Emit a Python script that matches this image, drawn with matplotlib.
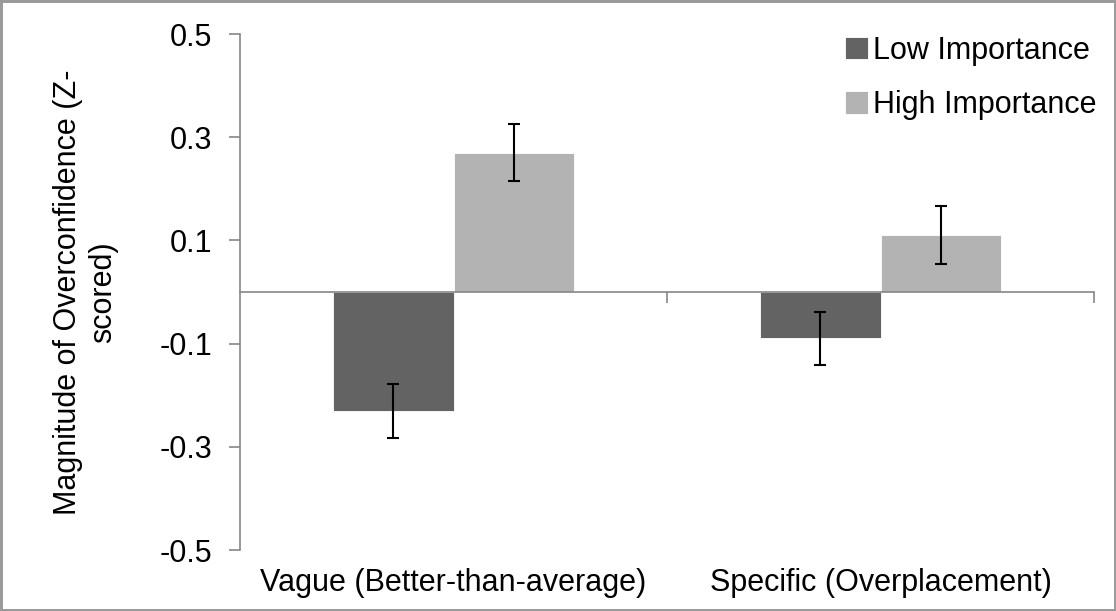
import matplotlib
matplotlib.use("Agg")
import matplotlib.pyplot as plt
import matplotlib.transforms as mtransforms
import numpy as np

categories = ["Vague (Better-than-average)", "Specific (Overplacement)"]
series_names = ["Low Importance", "High Importance"]
low_vals = [-0.23, -0.09]
high_vals = [0.27, 0.11]
low_err = [0.052, 0.052]
high_err = [0.055, 0.056]
yticks = [-0.5, -0.3, -0.1, 0.1, 0.3, 0.5]
ytick_labels = ["-0.5", "-0.3", "-0.1", "0.1", "0.3", "0.5"]

GRID = "#868686"
DARK = "#636363"
LIGHT = "#b3b3b3"
FS = 22

plt.rcParams["font.family"] = ["Liberation Sans", "DejaVu Sans"]

fig = plt.figure(figsize=(11.16, 6.11), dpi=100)
fig.patch.set_edgecolor("#9a9a9a")
fig.patch.set_linewidth(2.5)
ax = fig.add_axes([0.2151, 0.0998, 0.7652, 0.8445])

x = np.arange(len(categories))
w = 0.283
err_kw = dict(ecolor="black", capsize=4.6, elinewidth=1.5, capthick=1.5)
ax.bar(x - w / 2, low_vals, w, color=DARK, edgecolor="white", linewidth=0.6,
       yerr=low_err, error_kw=err_kw, label=series_names[0])
ax.bar(x + w / 2, high_vals, w, color=LIGHT, edgecolor="white", linewidth=0.6,
       yerr=high_err, error_kw=err_kw, label=series_names[1])

ax.set_xlim(-0.5, 1.5)
ax.set_ylim(-0.5, 0.5)
ax.set_yticks(yticks)
ax.set_yticklabels(ytick_labels)
ax.tick_params(axis="y", direction="out", length=8, width=1.2, color=GRID,
               labelsize=FS, pad=12)

# zero line acts as category axis
for s in ["top", "right"]:
    ax.spines[s].set_visible(False)
ax.spines["left"].set_color(GRID)
ax.spines["left"].set_linewidth(1.2)
ax.spines["bottom"].set_position(("data", 0))
ax.spines["bottom"].set_color(GRID)
ax.spines["bottom"].set_linewidth(1.2)
ax.set_xticks([0.5, 1.5])
ax.set_xticklabels(["", ""])
ax.tick_params(axis="x", direction="out", length=8, width=1.2, color=GRID)

trans = mtransforms.blended_transform_factory(ax.transData, ax.transAxes)
for xi, lab in zip(x, categories):
    ax.text(xi, -0.035, lab, transform=trans, ha="center", va="top", fontsize=FS)

ax.set_ylabel("Magnitude of Overconfidence (Z-\nscored)", fontsize=FS,
              labelpad=30)

leg = ax.legend(loc="upper right", bbox_to_anchor=(1.035, 1.05), frameon=False,
                fontsize=FS, handlelength=0.75, handleheight=0.75,
                handletextpad=0.15, labelspacing=0.8)

fig.savefig("out.png", dpi=100)
